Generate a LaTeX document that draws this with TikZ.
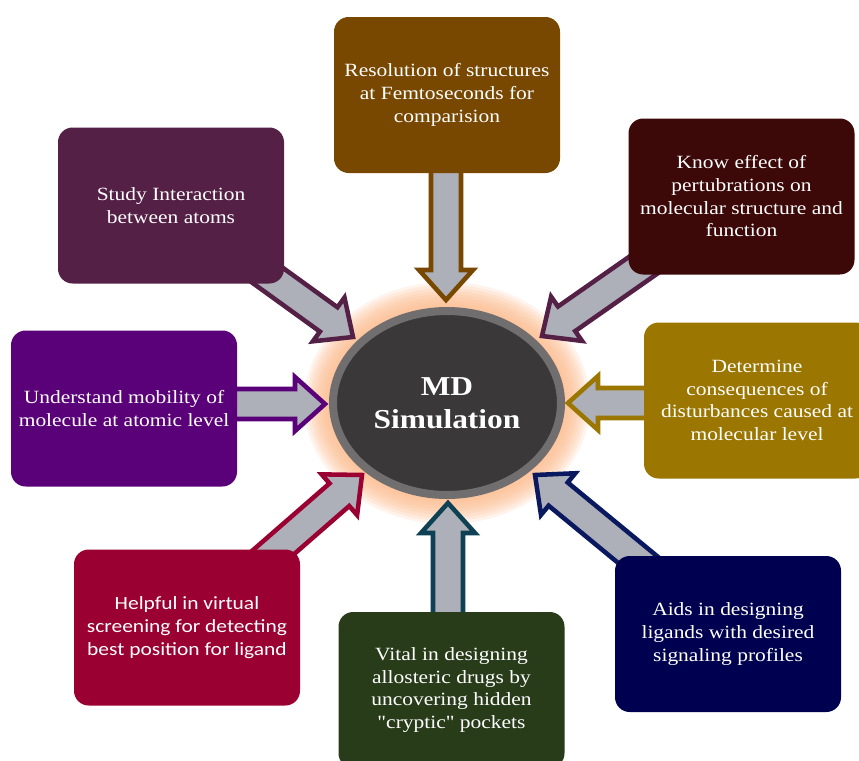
\documentclass[tikz,border=0pt]{standalone}
\usepackage{fontspec}
\setmainfont{Liberation Serif}[FakeStretch=1.15, Ligatures=TeXOff]
\newfontfamily\calibrifont{Carlito}[FakeStretch=1.15]
\usetikzlibrary{shapes.geometric,calc,backgrounds}
\definecolor{brownres}{RGB}{120,71,0}
\definecolor{plumstudy}{RGB}{85,32,70}
\definecolor{maroonknow}{RGB}{60,8,8}
\definecolor{purplemob}{RGB}{90,0,120}
\definecolor{golddet}{RGB}{155,118,0}
\definecolor{crimsonhelp}{RGB}{155,0,50}
\definecolor{greenvital}{RGB}{40,60,25}
\definecolor{navyaids}{RGB}{0,0,80}
\definecolor{tealarrow}{RGB}{15,65,85}
\definecolor{navyarrow}{RGB}{10,25,95}
\definecolor{arrowgrey}{RGB}{173,176,184}
\definecolor{ringgrey}{RGB}{112,110,110}
\definecolor{centregrey}{RGB}{58,56,56}
\definecolor{glowpeach}{RGB}{252,180,130}

% block arrow: outline colour, tail, tip
\newcommand\blockarrow[3]{%
  \coordinate (hb) at ($(#3)!22.5pt!(#2)$);
  \draw [arrowbody, draw=#1]
    ($(#2)!11.25pt!90:(#3)$) -- ($(hb)!11.25pt!90:(#3)$) -- ($(hb)!20.25pt!90:(#3)$)
    -- (#3) -- ($(hb)!20.25pt!-90:(#3)$) -- ($(hb)!11.25pt!-90:(#3)$)
    -- ($(#2)!11.25pt!-90:(#3)$) -- cycle;
}

\begin{document}
\begin{tikzpicture}[x=0.75pt, y=-0.75pt,
    infobox/.style={rounded corners=11pt, minimum width=169.5pt, minimum height=117pt,
      inner sep=0pt, text=white, align=center, font=\fontsize{14}{17}\selectfont},
    arrowbody/.style={fill=arrowgrey, line width=3.4pt},
    centre/.style={ellipse, fill=centregrey, draw=ringgrey, line width=6pt,
      minimum width=171pt, minimum height=138pt, text=white, align=center,
      font=\bfseries\fontsize{20.5}{25}\selectfont}]

    \useasboundingbox (0,0) rectangle (859,760);

    % Centre
    \node [centre] (md) at (447,403) {MD\\Simulation};

    % Boxes
    \node [infobox, fill=brownres] (res) at (447,95) {Resolution of structures\\at Femtoseconds for\\comparision};
    \node [infobox, fill=plumstudy] (study) at (171,205.5) {Study Interaction\\between atoms};
    \node [infobox, fill=maroonknow] (know) at (741.5,196.5) {Know effect of\\pertubrations on\\molecular structure and\\function};
    \node [infobox, fill=purplemob] (mobility) at (124,408.5) {Understand mobility of\\molecule at atomic level};
    \node [infobox, fill=golddet] (determine) at (757,400.5) {Determine\\consequences of\\disturbances caused at\\molecular level};
    \node [infobox, fill=crimsonhelp, font=\calibrifont\fontsize{14}{17}\selectfont] (helpful) at (187,627.5) {Helpful in virtual\\screening for detecting\\best position for ligand};
    \node [infobox, fill=greenvital] (vital) at (451.5,690) {Vital in designing\\allosteric drugs by\\uncovering hidden\\"cryptic" pockets};
    \node [infobox, fill=navyaids] (aids) at (728,634) {Aids in designing\\ligands with desired\\signaling profiles};

    % Arrow ends
    \coordinate (tipT) at (446,300);
    \coordinate (tipTL) at (353,337);
    \coordinate (tipTR) at (542,336);
    \coordinate (tipL) at (325,404);
    \coordinate (tipR) at (568,403);
    \coordinate (tipBL) at (362,475);
    \coordinate (tipB) at (448,503);
    \coordinate (tipBR) at (535,475);
    \coordinate (tailT) at (res.center -| tipT);
    \coordinate (tailL) at (mobility.center |- tipL);
    \coordinate (tailR) at (determine.center |- tipR);
    \coordinate (tailB) at (vital.center -| tipB);

    \begin{scope}[on background layer]
        % Glow
        \foreach \r in {26,23,...,2}
            \fill [glowpeach, opacity=0.16] (md.center) ellipse [x radius=117+\r, y radius=95+\r];

        % Arrows
        \blockarrow{brownres}{tailT}{tipT}
        \blockarrow{plumstudy}{study.center}{tipTL}
        \blockarrow{plumstudy}{know.center}{tipTR}
        \blockarrow{purplemob}{tailL}{tipL}
        \blockarrow{golddet}{tailR}{tipR}
        \blockarrow{crimsonhelp}{helpful.center}{tipBL}
        \blockarrow{tealarrow}{tailB}{tipB}
        \blockarrow{navyarrow}{aids.center}{tipBR}
    \end{scope}
\end{tikzpicture}
\end{document}
